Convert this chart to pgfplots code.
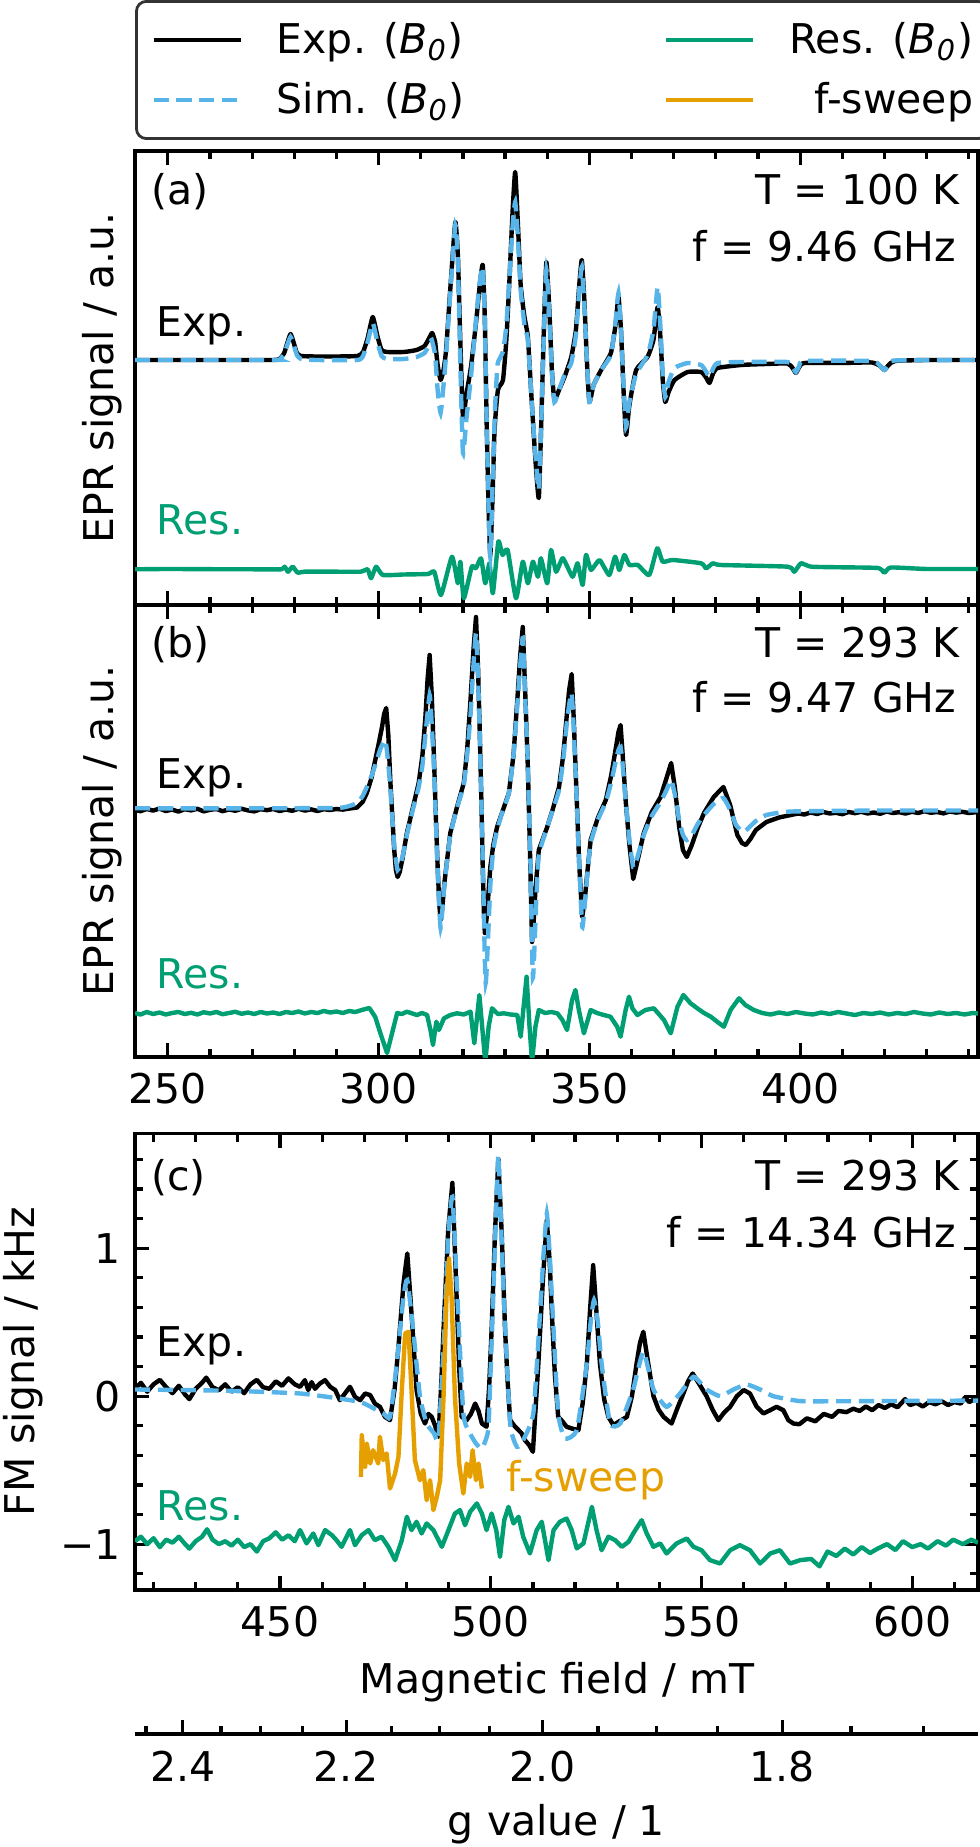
\documentclass[border=0pt]{standalone}
\usepackage{fontspec}
\setmainfont{DejaVu Sans}
\usepackage{pgfplots}
\pgfplotsset{compat=1.18}
\definecolor{csim}{HTML}{56B4E9}
\definecolor{cres}{HTML}{009E73}
\definecolor{cfs}{HTML}{E69F00}
\pgfplotsset{
  lexp/.style={black, line width=1.1pt, line join=round},
  lsim/.style={csim, line width=1.1pt, dash pattern=on 3.8pt off 1.9pt},
  lres/.style={cres, line width=1.1pt, line join=round},
  lfs/.style={cfs, line width=1.1pt, line join=round},
  panel/.style={
    scale only axis, width=210.75pt, anchor=south west,
    axis line style={line width=0.8pt},
    tick style={black, line width=0.8pt},
    major tick length=3.5pt, minor tick length=2pt,
    tick align=inside,
  },
}
\newcommand{\Bz}{\textit{B}\textsubscript{\textit{0}}}
\begin{document}
\fontsize{10.25pt}{12.3pt}\selectfont
\begin{tikzpicture}
\useasboundingbox (0,0) rectangle (245pt,-461.75pt);

% ---------------- panel (a)
\begin{axis}[panel, at={(33.75pt,-151.25pt)}, height=113.5pt,
  xmin=242.2, xmax=442.2, ymin=-2.45, ymax=2.09,
  xtick={250,300,350,400}, xticklabels={,,,},
  minor xtick={260,270,280,290,310,320,330,340,360,370,380,390,410,420,430,440},
  ytick=\empty,
  ylabel={EPR signal / a.u.},
  ylabel style={at={(axis description cs:-0.0261,0.5)}, anchor=base, inner sep=0pt},
  legend columns=2,
  legend image code/.code={\draw[#1] (0pt,0pt) -- (21.75pt,0pt);},
  legend style={at={(rel axis cs:0,1)}, anchor=south west, yshift=2.75pt,
    draw=black!80, line width=0.7pt, rounded corners=2.5pt,
    inner xsep=3.75pt, inner ysep=5pt, row sep=5.7pt,
    nodes={inner sep=0pt, text height=8pt, text depth=1.3pt},
    /tikz/every odd column/.append style={column sep=8.5pt},
    /tikz/every even column/.append style={column sep=50.75pt}},
]
\addplot[lres, smooth, tension=0.3, forget plot] coordinates {
(242.2,-2.093)(250,-2.09)(260,-2.092)(270,-2.093)(276.9,-2.093)(277.7,-2.067)(278.5,-2.117)(279.6,-2.067)(280.8,-2.127)(282.4,-2.117)(290,-2.117)(295.8,-2.117)(297.4,-2.093)(298.2,-2.183)(299.4,-2.067)(301.0,-2.15)(306,-2.145)(311.7,-2.14)(313.2,-2.117)(314.8,-2.35)(317.4,-1.967)(318.8,-2.233)(319.4,-2.017)(320.2,-2.383)(322.1,-2.067)(323.1,-2.083)(324.3,-1.983)(325.3,-2.233)(326.3,-2.033)(327.1,-2.333)(328.4,-1.817)(329.4,-1.95)(330.6,-1.90)(332.6,-2.383)(334.2,-2.017)(335.4,-2.233)(336.6,-2.017)(337.8,-2.167)(338.5,-1.983)(340.0,-2.233)(340.9,-1.9)(342.1,-2.117)(343.7,-1.983)(346.0,-2.167)(347.2,-2.033)(348.4,-2.25)(349.2,-1.95)(350.4,-2.1)(352.4,-2.0)(354.7,-2.15)(356.1,-1.967)(357.1,-2.1)(358.3,-1.95)(359.5,-2.05)(361.5,-2.05)(364.2,-2.15)(366.1,-1.883)(367.4,-2.017)(369.8,-2.0)(376.5,-2.033)(377.7,-2.083)(379.3,-2.033)(381.2,-2.05)(397.0,-2.067)(398.6,-2.117)(400.2,-2.033)(402.6,-2.067)(409.7,-2.073)(418.5,-2.08)(420,-2.127)(421.5,-2.075)(430,-2.09)(442.2,-2.09)};
\addplot[lexp, smooth, tension=0.3, forget plot] coordinates {
(242.2,0)(250,0)(265,0)(275,0)(276.5,0.01)(277.6,0.07)(278.4,0.18)(279.1,0.26)(279.8,0.18)(280.6,0.07)(281.6,0.04)(285,0.035)(290,0.035)(295,0.04)(296.3,0.08)(297.4,0.22)(298.6,0.43)(299.7,0.24)(300.7,0.10)(302,0.08)(306,0.08)(309,0.10)(310.9,0.14)(312.0,0.22)(312.7,0.27)(313.4,0.18)(314.0,-0.05)(314.7,-0.20)(315.4,-0.10)(316.0,0.10)(317.2,0.83)(318.2,1.38)(318.8,1.05)(319.3,0.30)(320.0,-0.57)(320.8,-0.35)(321.9,-0.07)(323.1,0.37)(324.0,0.75)(324.7,0.95)(325.2,0.40)(325.6,-0.57)(326.1,-1.50)(326.5,-1.95)(327.0,-1.40)(327.5,-0.70)(328.3,-0.30)(329.5,-0.20)(330.3,0.20)(331.0,0.77)(331.8,1.50)(332.4,1.88)(333.0,1.40)(333.7,0.75)(334.6,0.43)(335.4,0.23)(336.3,-0.40)(337.2,-1.00)(338.0,-1.38)(338.6,-0.60)(339.2,0.30)(339.8,0.98)(340.5,0.50)(341.1,-0.10)(341.7,-0.40)(342.8,-0.30)(344.1,-0.17)(345.7,0.03)(346.8,0.30)(347.6,0.75)(348.2,1.00)(348.8,0.60)(349.4,0.00)(350.0,-0.42)(351.0,-0.25)(352.8,-0.10)(355.1,0.07)(356.2,0.35)(356.9,0.63)(357.5,0.30)(358.1,-0.30)(358.7,-0.75)(359.5,-0.45)(361.1,-0.10)(363.8,0.03)(365.2,0.20)(366.2,0.53)(366.9,0.20)(367.4,-0.20)(368.0,-0.42)(368.8,-0.32)(370.2,-0.20)(373.3,-0.12)(376.5,-0.12)(377.6,-0.17)(378.5,-0.23)(379.3,-0.14)(380.4,-0.08)(386,-0.05)(392,-0.04)(397,-0.035)(398.2,-0.08)(399.0,-0.13)(399.8,-0.07)(401,-0.03)(410,-0.03)(417,-0.025)(419,-0.06)(420,-0.10)(421,-0.05)(422.5,-0.01)(430,0.0)(442.2,0.0)};
\addplot[lsim, smooth, tension=0.3, forget plot] coordinates {
(242.2,0)(275,0)(276.5,0.005)(277.6,0.06)(278.4,0.16)(279.1,0.23)(279.8,0.16)(280.6,0.05)(281.6,0.01)(285,0)(295,0)(296.3,0.04)(297.4,0.18)(298.6,0.37)(299.7,0.18)(300.7,0.04)(302,0.01)(306,0.01)(309,0.03)(310.9,0.07)(312.0,0.15)(312.6,0.20)(313.4,0.05)(314.0,-0.30)(314.7,-0.53)(315.4,-0.25)(316.0,0.05)(317.2,0.80)(318.2,1.35)(318.8,1.00)(319.3,0.10)(320.0,-0.93)(320.8,-0.60)(321.9,-0.17)(323.1,0.40)(323.9,0.75)(324.7,0.93)(325.2,0.40)(325.6,-0.57)(326.1,-1.50)(326.5,-1.97)(327.0,-1.30)(327.6,-0.50)(328.2,-0.05)(328.8,0.02)(329.6,0.10)(330.3,0.35)(331.0,0.80)(331.8,1.35)(332.4,1.58)(333.0,1.25)(333.7,0.70)(334.6,0.35)(335.4,0.20)(336.3,-0.40)(337.2,-0.95)(338.0,-1.30)(338.6,-0.60)(339.2,0.25)(339.8,0.90)(340.5,0.45)(341.1,-0.10)(341.7,-0.42)(342.8,-0.30)(344.1,-0.15)(345.7,-0.03)(346.8,0.25)(347.6,0.70)(348.2,0.93)(348.8,0.55)(349.4,0.00)(350.0,-0.42)(351.0,-0.25)(352.8,-0.10)(355.1,0.05)(356.2,0.38)(356.9,0.67)(357.5,0.30)(358.1,-0.25)(358.7,-0.67)(359.5,-0.42)(361.1,-0.14)(363.8,0.05)(365.2,0.30)(366.2,0.73)(366.9,0.30)(367.4,-0.15)(368.0,-0.37)(368.8,-0.22)(370.2,-0.08)(373.3,-0.03)(376.5,-0.05)(377.6,-0.11)(378.5,-0.17)(379.3,-0.09)(380.4,-0.03)(386,-0.02)(397,-0.02)(398.2,-0.07)(399.0,-0.12)(399.8,-0.06)(401,-0.01)(417,-0.01)(419,-0.06)(420,-0.10)(421,-0.05)(422.5,-0.005)(442.2,0)};
\addlegendimage{lexp}\addlegendentry{\makebox[46pt][l]{Exp. (\Bz)}}
\addlegendimage{lres}\addlegendentry{\makebox[46pt][r]{Res. (\Bz)}}
\addlegendimage{lsim}\addlegendentry{\makebox[46pt][l]{Sim. (\Bz)}}
\addlegendimage{lfs}\addlegendentry{\makebox[46pt][r]{f-sweep}}
\end{axis}

% ---------------- panel (b)
\begin{axis}[panel, at={(33.75pt,-264.25pt)}, height=113pt,
  xmin=242.2, xmax=442.2, ymin=-2.47, ymax=2.05,
  xtick={250,300,350,400}, xticklabels={250,300,350,400},
  xticklabel style={anchor=base, yshift=-11.5pt},
  minor xtick={260,270,280,290,310,320,330,340,360,370,380,390,410,420,430,440},
  ytick=\empty,
  ylabel={EPR signal / a.u.},
  ylabel style={at={(axis description cs:-0.0261,0.5)}, anchor=base, inner sep=0pt},
]
\addplot[lres, line join=round] coordinates {
(242.2,-2.03)(243.5,-2.045)(245,-2.02)(246.5,-2.04)(248,-2.025)(249.5,-2.045)(251,-2.03)(252.5,-2.02)(254,-2.04)(255.5,-2.028)(257,-2.045)(258.5,-2.022)(260,-2.035)(261.5,-2.02)(263,-2.042)(264.5,-2.03)(266,-2.018)(267.5,-2.038)(269,-2.025)(270.5,-2.04)(272,-2.02)(273.5,-2.035)(275,-2.025)(276.5,-2.04)(278,-2.02)(279.5,-2.03)(281,-2.015)(282.5,-2.035)(284,-2.02)(285.5,-2.03)(287,-2.01)(288.5,-2.025)(290,-2.015)(291.5,-2.03)(293,-2.01)(294.5,-2.02)(296,-2.0)(297.8,-1.98)(299.2,-2.07)(300.4,-2.23)(302.0,-2.43)(303.2,-2.23)(304.4,-2.03)(305.5,-2.04)(306.7,-2.017)(308,-2.035)(309.1,-2.05)(310.3,-2.03)(311.5,-2.05)(312.3,-2.2)(312.9,-2.35)(313.7,-2.117)(314.3,-2.2)(315.5,-2.083)(317,-2.05)(318.6,-2.033)(320.2,-2.045)(321.8,-2.017)(322.7,-2.333)(323.9,-1.85)(324.7,-2.233)(325.3,-2.52)(326.1,-2.167)(326.9,-1.983)(328.3,-2.04)(329.7,-2.033)(331.3,-2.045)(332.9,-2.05)(333.7,-2.267)(335.1,-1.667)(335.8,-2.167)(336.4,-2.52)(337.2,-2.167)(338.0,-2.0)(339.5,-2.03)(341,-2.02)(342.4,-2.033)(343.6,-2.1)(344.7,-2.2)(345.9,-1.9)(346.7,-1.8)(347.5,-2.0)(348.7,-2.233)(350.3,-2.0)(351.8,-2.03)(353.4,-2.05)(355.0,-2.067)(356.6,-2.167)(357.4,-2.267)(358.6,-2.0)(359.4,-1.867)(360.2,-1.983)(361.4,-2.05)(363.3,-2.0)(365.3,-1.983)(367.7,-2.1)(369.3,-2.233)(370.9,-1.967)(372.3,-1.85)(374.0,-1.933)(375.6,-1.983)(377.2,-2.03)(378.8,-2.067)(380.4,-2.12)(381.9,-2.167)(383.5,-2.0)(385.5,-1.883)(387,-1.95)(389,-2.0)(391,-2.03)(393,-2.045)(395,-2.025)(397,-2.04)(399,-2.02)(401,-2.035)(403,-2.045)(405,-2.025)(407,-2.04)(409,-2.02)(411,-2.035)(413,-2.05)(415,-2.03)(417,-2.04)(419,-2.025)(421,-2.045)(423,-2.03)(425,-2.04)(427,-2.02)(429,-2.035)(431,-2.045)(433,-2.025)(435,-2.04)(437,-2.03)(439,-2.045)(441,-2.03)(442.2,-2.035)};
\addplot[lexp] coordinates {
(242.2,0.000)(243.5,-0.012)(245,0.010)(246.5,-0.006)(248,0.014)(249.5,-0.010)(251,0.004)(252.5,-0.016)(254,0.008)(255.5,-0.004)(257,0.012)(258.5,-0.014)(260,0.002)(261.5,0.010)(263,-0.012)(264.5,0.006)(266,-0.008)(267.5,0.012)(269,-0.004)(270.5,-0.014)(272,0.008)(273.5,-0.002)(275,0.010)(276.5,-0.010)(278,0.004)(279.5,-0.008)(281,0.012)(282.5,-0.006)(284,0.006)(285.5,-0.010)(287,0.008)(288.5,0.000)(290,0.010)(291.5,0.004)(293,0.014)(294.9,0.025)(296.2,0.08)(297.2,0.17)(298.3,0.32)(299.2,0.50)(300.1,0.68)(300.8,0.83)(301.3,0.96)(301.8,1.02)(302.3,0.75)(302.8,0.27)(303.3,-0.10)(303.7,-0.40)(304.1,-0.60)(304.5,-0.67)(305.0,-0.62)(305.6,-0.50)(306.7,-0.23)(308.1,0.02)(309.5,0.27)(310.4,0.55)(311.1,0.93)(311.6,1.30)(312.1,1.55)(312.6,1.15)(313.2,0.43)(313.6,-0.10)(314.0,-0.57)(314.4,-0.95)(314.7,-1.10)(315.1,-0.98)(315.6,-0.73)(317.0,-0.23)(318.6,0.03)(320.2,0.27)(321.0,0.60)(321.8,1.10)(322.5,1.60)(323.1,1.93)(323.6,1.40)(324.0,0.77)(324.4,0.05)(324.7,-0.57)(325.0,-1.05)(325.2,-1.23)(325.7,-1.05)(326.5,-0.57)(327.2,-0.35)(328.1,-0.17)(329.5,0.00)(330.9,0.17)(332.0,0.55)(332.9,1.10)(333.6,1.55)(334.2,1.83)(334.8,1.15)(335.4,0.43)(336.0,-0.57)(336.4,-1.32)(336.8,-1.10)(337.2,-0.80)(338.0,-0.40)(340.0,-0.17)(341.4,0.02)(342.8,0.23)(343.8,0.55)(344.6,0.93)(345.2,1.20)(345.8,1.36)(346.3,0.90)(347.0,0.10)(347.6,-0.55)(348.3,-1.07)(348.9,-0.90)(349.5,-0.63)(350.3,-0.30)(352.0,-0.08)(353.9,0.10)(355.2,0.35)(356.2,0.60)(356.9,0.78)(357.4,0.85)(357.9,0.55)(358.6,0.10)(359.5,-0.35)(360.4,-0.69)(361.2,-0.55)(362.9,-0.23)(364.8,-0.02)(366.9,0.13)(368.3,0.32)(369.4,0.47)(370.3,0.22)(371.3,-0.17)(372.2,-0.40)(373.1,-0.47)(374.3,-0.35)(375.7,-0.18)(377.2,-0.03)(379.5,0.13)(381.8,0.23)(383.4,0.05)(385.1,-0.25)(386.2,-0.33)(387.1,-0.35)(388.2,-0.29)(389.5,-0.20)(392,-0.12)(395,-0.075)(397.8,-0.05)(399.5,-0.035)(401,-0.045)(402.5,-0.025)(404,-0.04)(405.5,-0.02)(407,-0.035)(408.5,-0.028)(410,-0.042)(411.5,-0.02)(413,-0.032)(414.5,-0.018)(416,-0.035)(417.5,-0.025)(419,-0.038)(420.5,-0.015)(422,-0.03)(423.5,-0.022)(425,-0.036)(426.5,-0.018)(428,-0.03)(429.5,-0.012)(431,-0.028)(432.5,-0.02)(434,-0.034)(435.5,-0.015)(437,-0.026)(438.5,-0.018)(440,-0.03)(442.2,-0.02)};
\addplot[lsim, smooth, tension=0.3] coordinates {
(242.2,0.017)(270,0.017)(290,0.02)(293,0.04)(294.9,0.07)(296.2,0.14)(297.2,0.23)(298.3,0.34)(299.2,0.45)(300.5,0.62)(301.6,0.70)(302.2,0.50)(302.8,0.20)(303.7,-0.35)(304.5,-0.60)(305.6,-0.48)(306.7,-0.25)(308.1,0.0)(309.5,0.23)(310.4,0.45)(311.1,0.75)(312.1,1.15)(312.6,0.85)(313.2,0.35)(314.0,-0.60)(314.7,-1.18)(315.6,-0.75)(317.0,-0.25)(318.6,0.02)(320.2,0.25)(321.0,0.55)(321.8,0.95)(322.5,1.45)(323.1,1.77)(323.6,1.30)(324.0,0.75)(324.7,-0.50)(325.4,-1.73)(326.5,-0.75)(327.2,-0.40)(328.1,-0.20)(329.5,0.0)(330.9,0.17)(332.0,0.55)(332.9,1.05)(333.6,1.45)(334.2,1.72)(334.8,1.10)(335.4,0.45)(336.0,-0.50)(336.6,-1.68)(337.4,-0.90)(338.0,-0.45)(340.0,-0.17)(341.4,0.01)(342.8,0.20)(343.8,0.50)(344.6,0.85)(345.2,1.05)(345.8,1.17)(346.3,0.80)(347.0,0.10)(347.6,-0.55)(348.3,-1.17)(348.9,-0.95)(349.5,-0.65)(350.3,-0.33)(352.0,-0.10)(353.9,0.08)(355.2,0.28)(356.2,0.48)(356.9,0.60)(357.4,0.63)(357.9,0.45)(358.6,0.10)(359.5,-0.30)(360.4,-0.57)(361.2,-0.50)(362.9,-0.25)(364.8,-0.06)(366.9,0.08)(368.3,0.20)(369.4,0.30)(370.3,0.15)(371.3,-0.10)(372.2,-0.25)(373.1,-0.30)(374.3,-0.25)(375.7,-0.14)(377.2,-0.05)(379.5,0.06)(381.8,0.12)(383.4,0.0)(384.8,-0.15)(386.5,-0.22)(388.0,-0.17)(389.5,-0.11)(392,-0.05)(398,-0.015)(420,-0.005)(442.2,-0.005)};
\end{axis}

% ---------------- panel (c)
\begin{axis}[panel, at={(33.75pt,-397.5pt)}, height=114.1pt,
  xmin=415.6, xmax=615.6, ymin=-1.31, ymax=1.774,
  xtick={450,500,550,600}, xticklabels={450,500,550,600},
  xticklabel style={anchor=base, yshift=-11.5pt},
  minor xtick={420,430,440,460,470,480,490,510,520,530,540,560,570,580,590,610},
  ytick={-1,0,1}, yticklabels={−1,0,1},
  minor ytick={-1.2,-0.8,-0.6,-0.4,-0.2,0.2,0.4,0.6,0.8,1.2,1.4,1.6},
  xlabel={Magnetic field / mT},
  xlabel style={at={(axis description cs:0.5006,-0.2278)}, anchor=base, inner sep=0pt},
  ylabel={FM signal / kHz},
  ylabel style={at={(axis description cs:-0.1192,0.5)}, anchor=base, inner sep=0pt},
]
\addplot[lres] coordinates {
(415.6,-0.98)(417,-0.95)(418.5,-1.0)(420,-0.96)(421.5,-1.02)(423,-0.97)(424.5,-0.99)(426,-0.95)(427.5,-1.0)(428.5,-1.03)(430,-0.98)(431.5,-0.95)(432.7,-0.90)(434,-0.97)(435.5,-1.0)(437,-0.98)(438.5,-1.01)(440,-0.97)(441.5,-1.02)(443,-1.0)(444.5,-1.05)(446,-0.98)(447.5,-0.96)(449,-0.92)(450.5,-0.97)(452,-0.94)(453.5,-0.98)(454.75,-0.905)(456.3,-0.995)(457.9,-0.928)(459.1,-1.007)(460.7,-0.905)(462.3,-0.939)(463.4,-0.973)(464.6,-1.018)(466.6,-0.905)(467.8,-1.007)(469.4,-0.939)(471.0,-0.905)(472.5,-0.973)(474.1,-0.950)(475.7,-1.018)(477.3,-1.108)(478.9,-0.973)(480.1,-0.815)(481.2,-0.905)(482.4,-0.849)(483.6,-0.928)(484.8,-0.860)(486.4,-0.905)(488.4,-1.018)(489.5,-0.939)(491.5,-0.793)(492.7,-0.770)(493.9,-0.872)(495.1,-0.782)(496.7,-0.725)(497.9,-0.793)(499.0,-0.905)(500.2,-0.793)(501.3,-0.905)(502.2,-1.086)(503.2,-0.838)(504.2,-0.748)(505.4,-0.860)(506.6,-0.815)(507.7,-0.950)(509.3,-1.063)(510.9,-0.905)(512.1,-0.849)(513.7,-1.108)(514.9,-0.905)(516.4,-0.849)(518.0,-0.827)(519.2,-0.905)(520.4,-1.029)(522.0,-0.995)(524.0,-0.748)(525.1,-0.905)(526.3,-1.041)(527.9,-0.950)(529.5,-0.973)(531.1,-1.018)(532.7,-0.984)(533.8,-0.928)(535.8,-0.838)(537.0,-0.928)(538.6,-1.018)(540.2,-0.995)(541.7,-1.063)(544.1,-0.995)(546.5,-0.962)(548.1,-1.018)(550.0,-1.041)(552.0,-1.108)(554.4,-1.131)(556.8,-1.041)(559.1,-1.007)(561.5,-1.041)(563.9,-1.131)(566.3,-1.063)(568.6,-1.041)(571.0,-1.131)(573.4,-1.108)(576,-1.1)(578,-1.15)(579.9,-1.05)(582,-1.08)(584,-1.03)(586,-1.07)(588,-1.02)(590,-1.06)(591.8,-1.03)(594,-1.0)(596,-1.04)(597.8,-0.98)(600,-1.02)(602,-1.0)(603.7,-1.03)(606,-0.98)(608,-1.01)(609.7,-0.97)(612,-1.0)(614,-0.97)(615.6,-0.99)};
\addplot[lexp] coordinates {
(415.6,0.05)(417.0,0.09)(418.5,0.03)(420.0,0.08)(421.5,0.11)(423.0,0.06)(424.5,0.02)(426.0,0.07)(427.5,0.01)(428.5,-0.02)(430.0,0.05)(431.5,0.09)(432.5,0.125)(434.0,0.06)(435.5,0.04)(437.0,0.08)(438.5,0.03)(440.0,0.06)(441.5,0.02)(443.0,0.08)(444.5,0.11)(446.0,0.06)(447.5,0.05)(449.0,0.10)(450.5,0.07)(452.0,0.12)(453.5,0.08)(454.75,0.063)(455.9,0.108)(456.7,0.041)(457.5,0.095)(458.3,0.05)(459.5,0.086)(460.7,0.108)(461.9,0.063)(463.1,0.041)(464.2,-0.027)(465.4,0.018)(466.6,0.063)(467.8,-0.005)(469.0,-0.027)(470.2,0.018)(471.4,0.007)(472.5,-0.05)(473.7,-0.072)(474.9,-0.14)(476.1,-0.162)(477.2,0.05)(478.1,0.333)(479.3,0.761)(480.2,0.964)(481.2,0.559)(482.4,0.041)(483.4,-0.12)(484.4,-0.185)(485.2,-0.12)(486.0,-0.14)(486.8,-0.2)(487.6,-0.275)(488.2,0.05)(488.8,0.446)(489.9,1.122)(490.9,1.441)(491.9,0.671)(492.5,0.2)(493.1,-0.140)(494.3,-0.162)(495.3,-0.12)(496.3,-0.050)(497.1,-0.1)(497.9,-0.185)(499.0,-0.207)(499.6,0.05)(500.2,0.446)(501.0,1.1)(501.8,1.6)(502.6,1.1)(503.4,0.446)(504.0,0.1)(504.6,-0.162)(505.6,-0.2)(506.6,-0.230)(507.3,-0.25)(508.1,-0.297)(509.1,-0.33)(510.0,-0.376)(510.6,-0.1)(511.3,0.221)(512.4,0.8)(513.3,1.189)(514.0,0.9)(514.5,0.559)(515.2,0.15)(516.0,-0.140)(517.0,-0.17)(518.0,-0.207)(519.4,-0.22)(520.8,-0.230)(521.8,-0.05)(522.8,0.221)(523.6,0.6)(524.3,0.885)(525.0,0.6)(525.9,0.221)(526.9,-0.02)(527.9,-0.140)(529.1,-0.196)(530.5,-0.17)(532.3,-0.140)(533.5,0.0)(534.6,0.221)(535.4,0.36)(536.2,0.435)(537.2,0.25)(538.6,0.0)(539.8,-0.09)(541.0,-0.140)(542.9,-0.185)(544.3,-0.08)(545.7,0.018)(546.8,0.1)(547.9,0.153)(549.5,0.08)(551.2,0.0)(552.6,-0.09)(554.0,-0.162)(555.4,-0.11)(556.8,-0.072)(558.4,0.0)(560.0,0.041)(561.5,0.018)(563.1,-0.072)(564.7,-0.117)(566.3,-0.095)(567.8,-0.072)(569.4,-0.095)(570.6,-0.162)(571.8,-0.185)(573.2,-0.19)(575,-0.15)(577,-0.17)(579,-0.12)(581,-0.14)(582.5,-0.1)(584.4,-0.108)(586,-0.085)(587.5,-0.1)(589,-0.07)(590.5,-0.095)(592,-0.06)(593.5,-0.08)(595,-0.055)(596.5,-0.075)(598.3,-0.02)(599.5,-0.06)(601,-0.045)(602.5,-0.07)(604,-0.04)(605.5,-0.055)(607,-0.035)(608.5,-0.06)(610,-0.04)(611.5,-0.05)(612.5,-0.01)(613.5,-0.04)(614.5,-0.025)(615.6,-0.03)};
\addplot[lsim, smooth, tension=0.3] coordinates {
(415.6,0.045)(425,0.042)(435,0.038)(445,0.03)(454.75,0.018)(460,0.0)(466.6,-0.027)(470,-0.05)(474.5,-0.117)(476.1,-0.14)(477.7,0.221)(479.3,0.671)(480.2,0.784)(481.6,0.446)(483.2,0.0)(484.8,-0.185)(486.5,-0.25)(487.6,-0.286)(488.8,0.333)(489.9,1.077)(490.9,1.347)(491.9,0.784)(493.5,-0.117)(495.1,-0.252)(496.5,-0.32)(497.9,-0.353)(499.4,-0.230)(500.0,0.2)(500.6,0.671)(501.2,1.2)(501.8,1.628)(502.4,1.2)(503.1,0.671)(504.6,-0.185)(506.2,-0.342)(507.7,-0.297)(510.1,-0.117)(511.7,0.559)(512.5,0.95)(513.3,1.234)(514.0,0.95)(514.7,0.559)(516.0,-0.117)(517.6,-0.286)(520.4,-0.230)(522.8,0.221)(523.7,0.5)(524.5,0.649)(525.4,0.5)(526.3,0.221)(528.3,-0.185)(530.7,-0.185)(533.8,0.045)(536.2,0.300)(538.6,0.045)(541.7,-0.072)(544.9,0.018)(548.1,0.131)(551.2,0.045)(554.4,0.0)(557.6,0.045)(560.7,0.079)(563.9,0.045)(567.0,0.0)(571.8,-0.027)(576,-0.035)(615.6,-0.03)};
\addplot[lfs] coordinates {
(469.2,-0.545)(469.4,-0.264)(470.2,-0.477)(470.6,-0.320)(471.4,-0.455)(472.1,-0.365)(473.3,-0.455)(473.7,-0.275)(474.5,-0.432)(475.3,-0.387)(476.1,-0.624)(477.3,-0.523)(478.1,-0.410)(478.9,0.041)(479.7,0.424)(480.5,0.435)(481.2,0.041)(482.0,-0.432)(483.2,-0.568)(484.0,-0.500)(484.8,-0.703)(485.6,-0.568)(486.4,-0.770)(487.2,-0.680)(488.0,-0.568)(488.8,-0.005)(489.5,0.671)(490.1,0.930)(490.7,0.671)(491.5,-0.005)(492.5,-0.455)(493.5,-0.658)(494.3,-0.455)(495.1,-0.545)(495.7,-0.365)(496.5,-0.568)(497.1,-0.455)(497.9,-0.624)};
\end{axis}

% ---------------- g-value axis
\begin{axis}[scale only axis, width=210.75pt, height=20pt, anchor=south west,
  at={(33.75pt,-433.5pt)},
  xmin=415.6, xmax=615.6, ymin=0, ymax=1,
  axis x line*=bottom, axis y line=none,
  x axis line style={-, line width=0.8pt},
  tick style={black, line width=0.8pt},
  major tick length=3.5pt, minor tick length=2pt, tick align=inside,
  xtick={426.90,465.71,512.28,569.20}, xticklabels={2.4,2.2,2.0,1.8},
  minor xtick={418.19,435.98,445.46,455.36,476.54,487.89,499.79,525.42,539.24,553.82,585.46,602.68},
  xticklabel style={anchor=base, yshift=-11.75pt},
  xlabel={g value / 1},
  xlabel style={at={(axis description cs:0.5,-1.269)}, anchor=base, inner sep=0pt},
]
\end{axis}

% ---------------- annotations
\node[anchor=base west, inner sep=0pt] at (37.6pt,-51.25pt) {(a)};
\node[anchor=base east, inner sep=0pt] at (240pt,-51.25pt) {T = 100 K};
\node[anchor=base east, inner sep=0pt] at (239.25pt,-65.5pt) {f = 9.46 GHz};
\node[anchor=base west, inner sep=0pt] at (39pt,-84.25pt) {Exp.};
\node[anchor=base west, inner sep=0pt, text=cres] at (39pt,-133.75pt) {Res.};
\node[anchor=base west, inner sep=0pt] at (37.6pt,-164.5pt) {(b)};
\node[anchor=base east, inner sep=0pt] at (240pt,-164.5pt) {T = 293 K};
\node[anchor=base east, inner sep=0pt] at (239.25pt,-178.25pt) {f = 9.47 GHz};
\node[anchor=base west, inner sep=0pt] at (39pt,-197pt) {Exp.};
\node[anchor=base west, inner sep=0pt, text=cres] at (39pt,-247pt) {Res.};
\node[anchor=base west, inner sep=0pt] at (37.6pt,-297.5pt) {(c)};
\node[anchor=base east, inner sep=0pt] at (240pt,-297.5pt) {T = 293 K};
\node[anchor=base east, inner sep=0pt] at (239.25pt,-311.75pt) {f = 14.34 GHz};
\node[anchor=base west, inner sep=0pt] at (39pt,-339pt) {Exp.};
\node[anchor=base west, inner sep=0pt, text=cres] at (39pt,-380.1pt) {Res.};
\node[anchor=base west, inner sep=0pt, text=cfs] at (126.5pt,-372.75pt) {f-sweep};
\end{tikzpicture}
\end{document}
